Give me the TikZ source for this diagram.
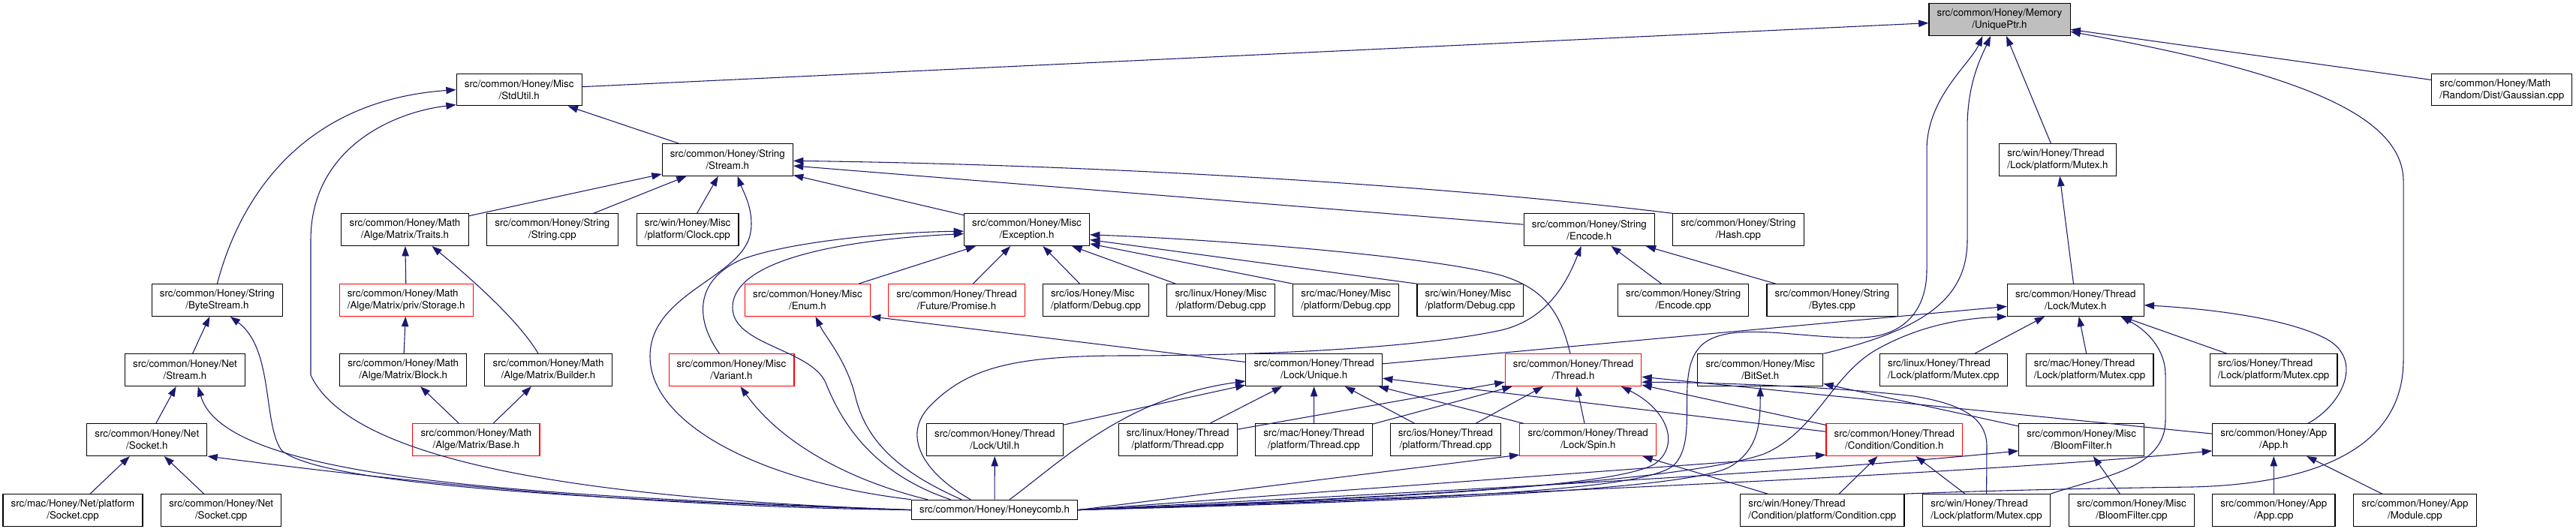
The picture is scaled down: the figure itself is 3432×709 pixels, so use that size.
\documentclass[tikz,border=0pt]{standalone}
\usepackage{fontspec}
\setmainfont{TeX Gyre Heros}
\usetikzlibrary{arrows.meta}
\definecolor{edgeblue}{HTML}{191970}
\definecolor{nodegray}{HTML}{BFBFBF}

\begin{document}
\begin{tikzpicture}[
  x=0.75pt, y=-0.75pt,
  box/.style={draw=black, line width=0.8pt, fill=white, inner xsep=8pt, inner ysep=0pt,
    minimum height=32pt, align=center, font=\fontsize{10}{12}\selectfont},
  redbox/.style={box, draw=red},
  lft/.style={align=left},
  dep/.style={draw=edgeblue, line width=0.8pt, -{Triangle[length=10pt,width=7pt]}}
]
\useasboundingbox (0,0) rectangle (3432,709);

\node[box, fill=nodegray] (up) at (2664,26.2) {src/common/Honey/Memory\\/UniquePtr.h};

\node[box] (su) at (691.7,119.6) {src/common/Honey/Misc\\/StdUtil.h};
\node[box, lft] (ga) at (3333.3,119.6) {src/common/Honey/Math\\/Random/Dist/Gaussian.cpp};

\node[box] (st) at (969.3,213) {src/common/Honey/String\\/Stream.h};
\node[box, lft] (wmh) at (2741.4,213) {src/win/Honey/Thread\\/Lock/platform/Mutex.h};

\node[box] (tr) at (539.5,306.2) {src/common/Honey/Math\\/Alge/Matrix/Traits.h};
\node[box] (sc) at (735.9,306.2) {src/common/Honey/String\\/String.cpp};
\node[box, lft] (cl) at (916.1,306.2) {src/win/Honey/Misc\\/platform/Clock.cpp};
\node[box] (ex) at (1368,306.2) {src/common/Honey/Misc\\/Exception.h};
\node[box] (eh) at (2117.3,306.2) {src/common/Honey/String\\/Encode.h};
\node[box] (ha) at (2315.9,306.2) {src/common/Honey/String\\/Hash.cpp};

\node[box] (bs) at (289.4,400) {src/common/Honey/String\\/ByteStream.h};
\node[redbox, lft] (sg) at (541.2,400) {src/common/Honey/Math\\/Alge/Matrix/priv/Storage.h};
\node[redbox] (en) at (1075.9,400) {src/common/Honey/Misc\\/Enum.h};
\node[redbox] (pr) at (1274.6,400) {src/common/Honey/Thread\\/Future/Promise.h};
\node[box, lft] (dio) at (1460,400) {src/ios/Honey/Misc\\/platform/Debug.cpp};
\node[box] (dli) at (1626.5,400) {src/linux/Honey/Misc\\/platform/Debug.cpp};
\node[box] (dma) at (1793.3,400) {src/mac/Honey/Misc\\/platform/Debug.cpp};
\node[box, lft] (dwi) at (1958.6,400) {src/win/Honey/Misc\\/platform/Debug.cpp};
\node[box] (ec) at (2242.7,400) {src/common/Honey/String\\/Encode.cpp};
\node[box] (by) at (2441.1,400) {src/common/Honey/String\\/Bytes.cpp};
\node[box] (mx) at (2765.3,400) {src/common/Honey/Thread\\/Lock/Mutex.h};

\node[box] (ns) at (246.5,493.2) {src/common/Honey/Net\\/Stream.h};
\node[box] (bl) at (537.2,493.2) {src/common/Honey/Math\\/Alge/Matrix/Block.h};
\node[box] (bu) at (730.5,493.2) {src/common/Honey/Math\\/Alge/Matrix/Builder.h};
\node[redbox] (va) at (974.5,493.2) {src/common/Honey/Misc\\/Variant.h};
\node[box] (uq) at (1750.7,493.2) {src/common/Honey/Thread\\/Lock/Unique.h};
\node[redbox] (th) at (2096,493.2) {src/common/Honey/Thread\\/Thread.h};
\node[box] (bi) at (2345.3,493.2) {src/common/Honey/Misc\\/BitSet.h};
\node[box, lft] (mli) at (2589.3,493.2) {src/linux/Honey/Thread\\/Lock/platform/Mutex.cpp};
\node[box, lft] (mma) at (2784.1,493.2) {src/mac/Honey/Thread\\/Lock/platform/Mutex.cpp};
\node[box, lft] (mio) at (3029.1,493.2) {src/ios/Honey/Thread\\/Lock/platform/Mutex.cpp};

\node[box] (sk) at (195.8,586.2) {src/common/Honey/Net\\/Socket.h};
\node[redbox] (ba) at (634.4,586.2) {src/common/Honey/Math\\/Alge/Matrix/Base.h};
\node[box] (ut) at (1325.3,586.2) {src/common/Honey/Thread\\/Lock/Util.h};
\node[box] (tli) at (1569.1,586.2) {src/linux/Honey/Thread\\/platform/Thread.cpp};
\node[box] (tma) at (1750.5,586.2) {src/mac/Honey/Thread\\/platform/Thread.cpp};
\node[box] (tio) at (1925.9,586.2) {src/ios/Honey/Thread\\/platform/Thread.cpp};
\node[redbox] (sp) at (2115.7,586.2) {src/common/Honey/Thread\\/Lock/Spin.h};
\node[redbox] (co) at (2523.8,586.2) {src/common/Honey/Thread\\/Condition/Condition.h};
\node[box] (bf) at (2773.2,586.2) {src/common/Honey/Misc\\/BloomFilter.h};
\node[box] (ap) at (3029.3,586.2) {src/common/Honey/App\\/App.h};

\node[box] (skm) at (97,680) {src/mac/Honey/Net/platform\\/Socket.cpp};
\node[box] (skc) at (294.7,680) {src/common/Honey/Net\\/Socket.cpp};
\node[box, minimum height=20pt] (hc) at (1325.1,679.6) {src/common/Honey/Honeycomb.h};
\node[box, lft] (cc) at (2427.8,680) {src/win/Honey/Thread\\/Condition/platform/Condition.cpp};
\node[box, lft] (wmc) at (2646.6,680) {src/win/Honey/Thread\\/Lock/platform/Mutex.cpp};
\node[box] (bfc) at (2840,680) {src/common/Honey/Misc\\/BloomFilter.cpp};
\node[box] (apc) at (3029.3,680) {src/common/Honey/App\\/App.cpp};
\node[box] (mo) at (3217.4,680) {src/common/Honey/App\\/Module.cpp};

\draw[dep] (su) -- (up);
\draw[dep] (ga) -- (up);
\draw[dep] (wmh) -- (up);
\draw[dep] (bi.north east) .. controls (2560,440) and (2621,400) .. (2621,320) -- (2621,170)
  .. controls (2621,110) and (2640,75) .. ([xshift=-9pt]up.south);
\draw[dep] (hc.east) .. controls (1900,665) and (2190,655) .. (2230,620)
  .. controls (2265,585) and (2230,500) .. (2265,462)
  .. controls (2300,425) and (2400,452) .. (2480,450)
  .. controls (2540,448) and (2567,410) .. (2567,360) -- (2567,200)
  .. controls (2567,130) and (2625,85) .. ([xshift=-17pt]up.south);
\draw[dep] (cc.north east) .. controls (2700,652) and (2850,650) .. (2921,649)
  .. controls (3080,645) and (3202,600) .. (3202,480) -- (3202,240)
  .. controls (3200,150) and (3050,95) .. ([yshift=-12pt]up.east);

\draw[dep] (st) -- (su);
\draw[dep] (bs.north) .. controls (315,280) and (390,135) .. (su.west);
\draw[dep] (hc.west) .. controls (800,665) and (470,620) .. (414,500) -- (414,320)
  .. controls (414,200) and (520,150) .. ([yshift=-15pt]su.west);

\draw[dep] (ex) -- (st);
\draw[dep] (tr) -- (st);
\draw[dep] (sc) -- (st);
\draw[dep] (cl) -- (st);
\draw[dep] (hc.north west) .. controls (1000,640) and (866,560) .. (866,475)
  .. controls (866,390) and (990,370) .. (1000,310)
  .. controls (1005,280) and (990,255) .. ([xshift=10pt]st.south);
\draw[dep] (eh) -- ([yshift=-6pt]st.east);
\draw[dep] (ha.north west) .. controls (1950,250) and (1500,220) .. ([yshift=-1pt]st.east);

\draw[dep] (sg) -- (tr);
\draw[dep] ([xshift=-10pt]bu.north) .. controls (690,425) and (620,365) .. ([xshift=27pt]tr.south);
\draw[dep] (bl) -- (sg);
\draw[dep] (ba) -- (bl);
\draw[dep] (ba) -- (bu);

\draw[dep] (ns) -- (bs);
\draw[dep] (hc.west) .. controls (700,664) and (420,640) .. (375,600)
  .. controls (350,565) and (365,465) .. ([xshift=13pt]bs.south);
\draw[dep] (hc.west) .. controls (700,660) and (300,640) .. ([xshift=13pt]ns.south);
\draw[dep] (sk) -- (ns);
\draw[dep] (hc.west) .. controls (800,675) and (450,630) .. (sk.south east);
\draw[dep] (skm) -- (sk);
\draw[dep] (skc) -- (sk);

\draw[dep] ([xshift=-12pt]va.north) .. controls (922,420) and (930,370) .. (990,345)
  .. controls (1060,320) and (1200,309) .. ([yshift=-1.5pt]ex.west);
\draw[dep] ([xshift=-44pt]hc.north) .. controls (1160,630) and (1120,560) .. (1100,510)
  .. controls (1080,465) and (976,460) .. (976,410)
  .. controls (976,340) and (1150,318) .. ([yshift=-4pt]ex.west);
\draw[dep] (en) -- (ex);
\draw[dep] (pr) -- (ex);
\draw[dep] (dio) -- (ex);
\draw[dep] (dli) -- (ex);
\draw[dep] (dma.north west) -- ([yshift=-14pt]ex.east);
\draw[dep] (dwi.north west) -- ([yshift=-10pt]ex.east);
\draw[dep] ([xshift=-3pt]th.north) .. controls (2080,420) and (2060,385) .. (2000,367)
  .. controls (1900,340) and (1600,318) .. ([yshift=-5pt]ex.east);

\draw[dep] ([yshift=8pt]uq.west) -- (en.south east);
\draw[dep] ([xshift=-33pt]hc.north) .. controls (1200,630) and (1155,590) .. (1140,530)
  .. controls (1128,480) and (1100,450) .. ([xshift=8pt]en.south);
\draw[dep] ([xshift=-67pt]hc.north) .. controls (1130,640) and (1040,590) .. ([xshift=9pt]va.south);

\draw[dep] ([xshift=-24pt]hc.north) .. controls (1230,630) and (1200,580) .. (1240,540)
  .. controls (1290,490) and (1350,474) .. (1500,474)
  .. controls (1700,474) and (1900,462) .. (2000,440)
  .. controls (2065,425) and (2090,370) .. ([xshift=-8pt]eh.south);
\draw[dep] (ec) -- (eh);
\draw[dep] (by) -- (eh);

\draw[dep] (ut) -- (uq);
\draw[dep] ([xshift=15pt]hc.north) .. controls (1420,610) and (1500,530) .. ([yshift=-11pt]uq.west);
\draw[dep] (tli) -- (uq);
\draw[dep] (tma) -- (uq);
\draw[dep] (tio) -- (uq);
\draw[dep] (sp) -- (uq);
\draw[dep] (co) -- (uq);

\draw[dep] (tli) -- (th);
\draw[dep] (tma) -- (th);
\draw[dep] (tio) -- (th);
\draw[dep] (sp) -- (th);
\draw[dep] (co) -- (th);
\draw[dep] (ap) -- (th);
\draw[dep] (hc.east) .. controls (1800,665) and (2150,652) .. (2205,618)
  .. controls (2240,592) and (2220,545) .. ([xshift=48pt]th.south);
\draw[dep] (wmc.north) -- (2647,595) .. controls (2647,555) and (2610,538) .. (2550,528)
  .. controls (2450,516) and (2300,510) .. ([yshift=-12pt]th.east);

\draw[dep] (uq) -- (mx);
\draw[dep] (hc.east) .. controls (1900,662) and (2250,640) .. (2350,605)
  .. controls (2420,575) and (2440,500) .. (2500,466)
  .. controls (2560,432) and (2620,424) .. (mx.south west);
\draw[dep] (mli) -- (mx);
\draw[dep] (mma) -- (mx);
\draw[dep] (mio) -- (mx);
\draw[dep] (wmc.north east) .. controls (2800,635) and (2885,625) .. (2885,560) -- (2885,500)
  .. controls (2885,465) and (2860,440) .. ([xshift=45pt]mx.south);
\draw[dep] ([xshift=34pt]ap.north) .. controls (3120,540) and (3150,480) .. (3100,452)
  .. controls (3050,425) and (2950,412) .. ([yshift=-5pt]mx.east);
\draw[dep] (mx) -- (wmh);

\draw[dep] (hc.east) .. controls (1900,668) and (2250,652) .. (2305,622)
  .. controls (2345,598) and (2345,560) .. (bi.south);
\draw[dep] (bf) -- (bi);

\draw[dep] (cc) -- (co);
\draw[dep] (wmc) -- (co);
\draw[dep] (hc.east) -- ([yshift=-15pt]co.west);
\draw[dep] (hc.east) -- ([yshift=-15pt]sp.west);
\draw[dep] (cc) -- (sp);
\draw[dep] (bfc) -- (bf);
\draw[dep] (hc.east) .. controls (2000,650) and (2400,630) .. ([yshift=-11pt]bf.west);
\draw[dep] (apc) -- (ap);
\draw[dep] (mo) -- (ap);
\draw[dep] (hc.east) .. controls (2200,652) and (2700,625) .. ([yshift=-11pt]ap.west);
\draw[dep] (hc) -- (ut);

\end{tikzpicture}
\end{document}
